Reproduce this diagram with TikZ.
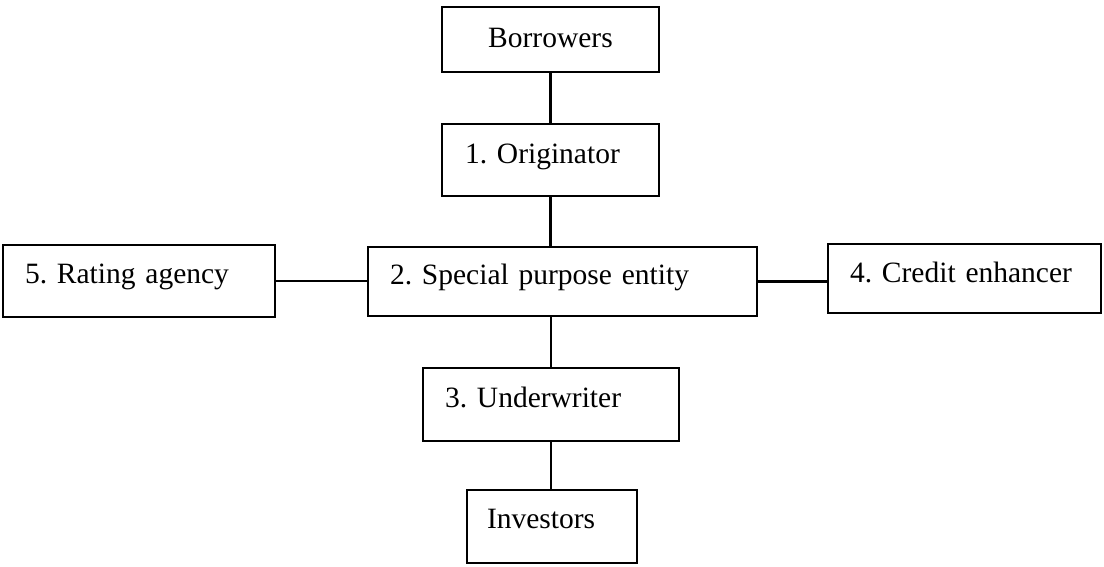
\documentclass[tikz,border=0pt]{standalone}
\usepackage{fontspec}
\setmainfont{Liberation Serif}
\frenchspacing
\begin{document}
\begin{tikzpicture}[x=1pt,y=-1pt,
  box/.style={draw=black, line width=2.4pt, inner ysep=0pt, align=left,
    font=\frenchspacing\fontsize{29.5}{35}\selectfont},
  link/.style={draw=black, line width=2.4pt}]
\useasboundingbox (0,0) rectangle (1104,566);
\node[box, align=center, inner xsep=10pt, text width=197pt, text height=40pt, text depth=25pt] (B) at (550.5,39.5) {Borrowers};
\node[box, inner xsep=23pt, text width=171pt, text height=39pt, text depth=33pt] (O) at (550.5,160) {1. Originator};
\node[box, inner xsep=22pt, text width=345pt, text height=37pt, text depth=32pt] (S) at (562.5,281.5) {2. Special purpose entity};
\node[box, inner xsep=22pt, text width=228pt, text height=38pt, text depth=34pt] (R) at (139,281) {5. Rating agency};
\node[box, inner xsep=22pt, text width=229pt, text height=38pt, text depth=31pt] (C) at (964.5,278.5) {4. Credit enhancer};
\node[box, inner xsep=22pt, text width=212pt, text height=39pt, text depth=34pt] (U) at (551,404.5) {3. Underwriter};
\node[box, inner xsep=20pt, text width=130pt, text height=38pt, text depth=35pt] (I) at (552,526.5) {Investors};
\draw[link] (B.south) -- (O.north);
\draw[link] (O.south) -- (O.south |- S.north);
\draw[link] (S.south -| U.north) -- (U.north);
\draw[link] (U.south) -- (U.south |- I.north);
\draw[link] (R.east) -- (R.east -| S.west);
\draw[link] (S.east) -- (S.east -| C.west);
\end{tikzpicture}
\end{document}
